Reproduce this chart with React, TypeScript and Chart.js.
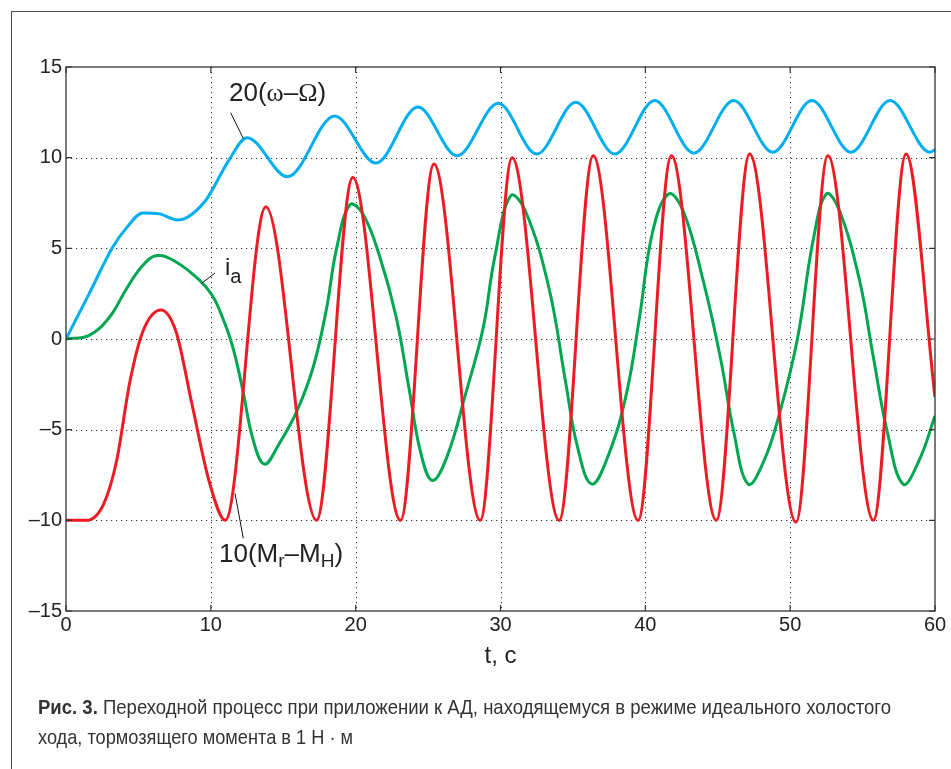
import React, { useEffect, useRef } from 'react';
import { Chart, registerables } from 'chart.js';

Chart.register(...registerables);

// ---- data (t in s, value): transient readings, then the turning points of each swing ----
const blueSeries: [number, number][] = [
  [0, 0], [1.6, 2.5], [3.25, 5.1], [4.15, 6.1], [5.3, 6.95], [6.45, 6.9], [7.7, 6.56],
  [9.6, 7.6], [11.2, 9.8], [12.5, 11.1], [15.3, 8.95], [18.55, 12.3], [21.4, 9.7],
  [24.3, 12.8], [27.0, 10.1], [29.85, 13.0], [32.5, 10.2], [35.2, 13.05], [37.9, 10.2],
  [40.65, 13.15], [43.35, 10.25], [46.1, 13.15], [48.8, 10.3], [51.5, 13.15], [54.2, 10.3],
  [56.9, 13.15], [59.65, 10.3], [60, 10.45],
];

const greenSeries: [number, number][] = [
  [0, 0], [1.6, 0.2], [3.0, 1.2], [4.2, 2.8], [5.3, 4.05], [6.3, 4.6], [7.6, 4.25],
  [9.2, 3.26], [10.1, 2.4], [10.8, 1.2], [11.5, -0.4], [12.2, -2.8], [12.9, -5.5],
  [13.7, -6.9], [14.7, -5.8], [15.9, -4.05], [17.05, -1.6], [17.97, 1.6], [18.66, 4.9],
  [19.6, 7.4], [20.5, 6.9], [21.66, 4.55], [22.8, 1.2], [23.7, -2.8], [24.5, -6.3],
  [25.3, -7.8], [26.3, -6.5], [27.6, -3.0], [28.8, 0.6], [29.6, 4.5], [30.7, 7.9],
  [31.7, 7.1], [33.35, 2.8], [34.5, -2.4], [35.3, -5.9], [36.3, -8.0], [37.5, -6.3],
  [38.7, -3.0], [39.6, 1.2], [40.5, 5.9], [41.6, 8.0], [42.6, 7.1], [44.0, 3.2],
  [45.2, -1.1], [46.1, -5.1], [47.1, -8.0], [48.2, -6.7], [49.3, -4.0], [50.5, 0],
  [51.6, 5.5], [52.5, 8.0], [53.4, 7.1], [54.8, 3.2], [55.7, -0.8], [56.7, -5.1],
  [57.8, -8.0], [58.9, -6.7], [60, -4.25],
];

const redSeries: [number, number][] = [
  [0, -10], [1.4, -10], [2.6, -9.1], [3.5, -6.7], [4.4, -2.4], [5.3, 0.4], [6.55, 1.6],
  [7.6, 0.4], [8.7, -3.6], [9.9, -7.9], [11.0, -10], [13.8, 7.3], [17.3, -10],
  [19.8, 8.9], [23.1, -10], [25.4, 9.65], [28.6, -10], [30.8, 10], [34.05, -10],
  [36.4, 10.1], [39.5, -10], [41.8, 10.1], [44.9, -10], [47.2, 10.2], [50.4, -10.1],
  [52.6, 10.1], [55.75, -10], [58.0, 10.2], [60, -3.2],
];

const xTicks = [0, 10, 20, 30, 40, 50, 60];
const yTicks = [-15, -10, -5, 0, 5, 10, 15];
const xTitle = 't, c';
const captionBold = 'Рис. 3.';
const captionLine1 = ' Переходной процесс при приложении к АД, находящемуся в режиме идеального холостого';
const captionLine2 = 'хода, тормозящего момента в 1 Н · м';

const BLUE = '#00aeef';
const GREEN = '#00a651';
const RED = '#ed1c24';
const FONT = "'Liberation Sans', Arial, Helvetica, sans-serif";

// annotation leader lines in data coordinates: [t1, v1, t2, v2]
const leaders: [number, number, number, number][] = [
  [11.37, 12.48, 12.24, 11.06],
  [10.29, 3.64, 9.37, 3.07],
  [12.24, -10.99, 11.67, -8.51],
];

const framePlugin = {
  id: 'matlabFrame',
  beforeDatasetsDraw(chart: any) {
    const { ctx, chartArea, scales } = chart;
    const { left, right, top, bottom } = chartArea;
    const x = scales.x, y = scales.y;
    ctx.save();
    ctx.strokeStyle = '#333';
    ctx.lineWidth = 1;
    ctx.setLineDash([1.2, 3.8]);
    for (const v of xTicks) {
      if (v === xTicks[0] || v === xTicks[xTicks.length - 1]) continue;
      const px = Math.round(x.getPixelForValue(v)) + 0.5;
      ctx.beginPath(); ctx.moveTo(px, top); ctx.lineTo(px, bottom); ctx.stroke();
    }
    for (const v of yTicks) {
      if (v === yTicks[0] || v === yTicks[yTicks.length - 1]) continue;
      const py = Math.round(y.getPixelForValue(v)) + 0.5;
      ctx.beginPath(); ctx.moveTo(left, py); ctx.lineTo(right, py); ctx.stroke();
    }
    ctx.restore();
  },
  afterDatasetsDraw(chart: any) {
    const { ctx, chartArea, scales } = chart;
    const { left, right, top, bottom } = chartArea;
    const x = scales.x, y = scales.y;
    ctx.save();
    ctx.setLineDash([]);
    ctx.strokeStyle = '#333';
    ctx.lineWidth = 1.3;
    ctx.strokeRect(left, top, right - left, bottom - top);
    const tl = 6;
    ctx.lineWidth = 1.2;
    for (const v of xTicks) {
      const px = x.getPixelForValue(v);
      ctx.beginPath();
      ctx.moveTo(px, top); ctx.lineTo(px, top + tl);
      ctx.moveTo(px, bottom); ctx.lineTo(px, bottom - tl);
      ctx.stroke();
    }
    for (const v of yTicks) {
      const py = y.getPixelForValue(v);
      ctx.beginPath();
      ctx.moveTo(left, py); ctx.lineTo(left + tl, py);
      ctx.moveTo(right, py); ctx.lineTo(right - tl, py);
      ctx.stroke();
    }
    ctx.strokeStyle = '#111';
    ctx.lineWidth = 1;
    for (const [t1, v1, t2, v2] of leaders) {
      ctx.beginPath();
      ctx.moveTo(x.getPixelForValue(t1), y.getPixelForValue(v1));
      ctx.lineTo(x.getPixelForValue(t2), y.getPixelForValue(v2));
      ctx.stroke();
    }
    ctx.restore();
  },
};

const toPoints = (s: [number, number][]) => s.map(([t, v]) => ({ x: t, y: v }));

export default function App() {
  const canvasRef = useRef<HTMLCanvasElement | null>(null);

  useEffect(() => {
    if (!canvasRef.current) return;
    const common = { borderWidth: 3, pointRadius: 0, fill: false };
    const chart = new Chart(canvasRef.current, {
      type: 'line',
      data: {
        datasets: [
          { ...common, label: '10(Mr–MH)', data: toPoints(redSeries), borderColor: RED, cubicInterpolationMode: 'monotone' },
          { ...common, label: 'ia', data: toPoints(greenSeries), borderColor: GREEN, tension: 0.4 },
          { ...common, label: '20(ω–Ω)', data: toPoints(blueSeries), borderColor: BLUE, cubicInterpolationMode: 'monotone' },
        ],
      },
      options: {
        animation: false,
        responsive: false,
        devicePixelRatio: 1,
        layout: { padding: { left: 0, top: 67, right: 16, bottom: 98 } },
        plugins: { legend: { display: false }, tooltip: { enabled: false } },
        scales: {
          x: {
            type: 'linear',
            min: xTicks[0],
            max: xTicks[xTicks.length - 1],
            afterBuildTicks: (s: any) => { s.ticks = xTicks.map((v) => ({ value: v })); },
            afterFit: (s: any) => { s.height = 60; },
            grid: { display: false, drawTicks: false },
            border: { display: false },
            ticks: {
              autoSkip: false, maxRotation: 0, padding: 2, color: '#222',
              font: { family: FONT, size: 20 },
            },
            title: {
              display: true, text: xTitle, color: '#222', padding: 0,
              font: { family: FONT, size: 24 },
            },
          },
          y: {
            type: 'linear',
            min: yTicks[0],
            max: yTicks[yTicks.length - 1],
            afterBuildTicks: (s: any) => { s.ticks = yTicks.map((v) => ({ value: v })); },
            afterFit: (s: any) => { s.width = 66; },
            grid: { display: false, drawTicks: false },
            border: { display: false },
            ticks: {
              autoSkip: false, padding: 4, color: '#222',
              font: { family: FONT, size: 20 },
              callback: (v: any) => (Number(v) < 0 ? '–' + Math.abs(Number(v)) : String(v)),
            },
          },
        },
      },
      plugins: [framePlugin],
    });
    return () => chart.destroy();
  }, []);

  const txt = { fontFamily: FONT, fill: '#222' } as React.CSSProperties;
  const serif = "'Liberation Serif', 'Times New Roman', serif";
  const capFont = "'Liberation Sans Narrow', 'Liberation Sans', Arial, sans-serif";

  return (
    <div style={{ position: 'absolute', left: 0, top: 0, width: 951, height: 769, background: '#fff', overflow: 'hidden' }}>
      <div style={{ position: 'absolute', left: 11, top: 11, width: 960, height: 780, borderTop: '1.5px solid #4a4a4a', borderLeft: '1.5px solid #4a4a4a' }} />
      <canvas ref={canvasRef} width={951} height={769} style={{ position: 'absolute', left: 0, top: 0, width: 951, height: 769 }} />
      <svg width={951} height={769} style={{ position: 'absolute', left: 0, top: 0, pointerEvents: 'none' }}>
        <text x={229} y={101} style={{ ...txt, fontSize: 26 }}>
          20(<tspan style={{ fontFamily: serif }}>ω</tspan>–<tspan style={{ fontFamily: serif }}>Ω</tspan>)
        </text>
        <text x={225} y={275} style={{ ...txt, fontSize: 24 }}>
          i<tspan dy={8} style={{ fontSize: 20 }}>a</tspan>
        </text>
        <text x={219} y={562} style={{ ...txt, fontSize: 26 }}>
          10(M<tspan dy={5} style={{ fontSize: 19 }}>r</tspan><tspan dy={-5}>–M</tspan><tspan dy={5} style={{ fontSize: 19 }}>H</tspan><tspan dy={-5}>)</tspan>
        </text>
        <text x={38} y={714} textLength={853} lengthAdjust="spacingAndGlyphs"
          style={{ fontFamily: capFont, fontSize: 21, fill: '#333' }}>
          <tspan style={{ fontWeight: 'bold' }}>{captionBold}</tspan>{captionLine1}
        </text>
        <text x={38} y={744} textLength={315} lengthAdjust="spacingAndGlyphs"
          style={{ fontFamily: capFont, fontSize: 21, fill: '#333' }}>
          {captionLine2}
        </text>
      </svg>
    </div>
  );
}
